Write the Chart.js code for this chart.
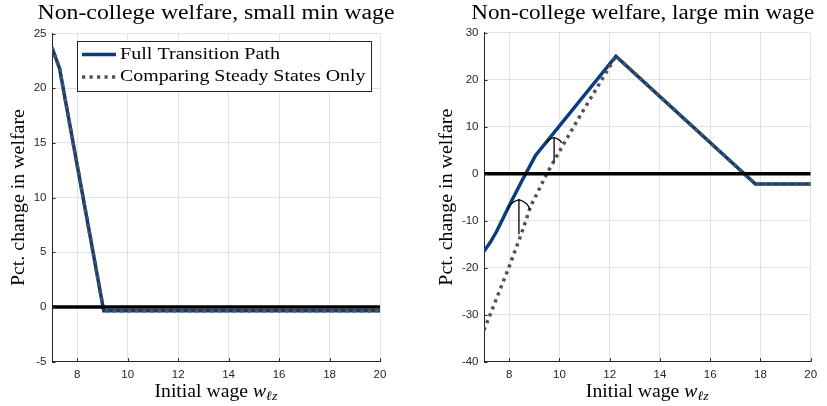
<!DOCTYPE html>
<html>
<head>
<meta charset="utf-8">
<script src="https://cdn.jsdelivr.net/npm/chart.js@4.4.1/dist/chart.umd.min.js"></script>
<style>
  html, body { margin: 0; padding: 0; background: #fff; }
  #wrap { position: relative; width: 827px; height: 406px; overflow: hidden; background: #fff; }
  canvas { position: absolute; top: 0; }
</style>
</head>
<body>
<div id="wrap">
  <canvas id="small" width="413" height="406" style="left:0"></canvas>
  <canvas id="large" width="414" height="406" style="left:413px"></canvas>
</div>
<script>
// Welfare change (%) for non-college workers by initial wage, small minimum wage
const smallWage   = [7, 7.3, 9.05, 20];
const smallFull   = [23.7, 21.8, -0.35, -0.35];
const smallSteady = [23.7, 21.8, -0.35, -0.35];

// Same, large minimum wage
const largeWageFull   = [7, 7.25, 7.5, 7.75, 8, 8.5, 9.05, 12.25, 17.8, 20];
const largeFull       = [-16.5, -14.6, -12.3, -9.6, -6.8, -1.6, 3.9, 25, -2.2, -2.2];
const largeWageSteady = [7, 7.5, 8, 8.5, 8.85, 9.5, 10.2, 10.9, 12.25, 17.8, 20];
const largeSteady     = [-33.3, -26.5, -19.8, -12.6, -7.0, 0, 6.6, 13.0, 25, -2.2, -2.2];

// Reference line at zero
const zeroWage  = [7, 20];
const zeroLevel = [0, 0];

// Tick values
const xTicks      = [8, 10, 12, 14, 16, 18, 20];
const smallYTicks = [-5, 0, 5, 10, 15, 20, 25];
const largeYTicks = [-40, -30, -20, -10, 0, 10, 20, 30];

// Arrows from the steady-state comparison up to the transition path
const arrowWage = [8.39, 9.79];
const arrowFrom = [-12.9, 2.5];
const arrowTo   = [-5.5, 7.7];

const titles      = ['Non-college welfare, small min wage', 'Non-college welfare, large min wage'];
const seriesNames = ['Full Transition Path', 'Comparing Steady States Only'];
const yLabel      = 'Pct. change in welfare';

const BLUE = '#0c3d7c';
const GRAY = '#525252';
const AXIS = '#262626';
const GRID = '#e2e2e2';
const SERIF = '"Liberation Serif", "Times New Roman", serif';
const SANS = '"Liberation Sans", Arial, sans-serif';

function pts(xs, ys) { return xs.map((x, i) => ({ x: x, y: ys[i] })); }

// draw a string stretched to a given width
function fitText(ctx, str, x, y, width, align) {
  const m = ctx.measureText(str).width;
  ctx.save();
  ctx.translate(x, y);
  ctx.scale(width / m, 1);
  ctx.textAlign = align;
  ctx.fillText(str, 0, 0);
  ctx.restore();
}

const decor = {
  id: 'decor',
  afterDraw(chart, args, o) {
    const ctx = chart.ctx;
    const xs = chart.scales.x, ys = chart.scales.y;
    const area = chart.chartArea;
    ctx.save();
    ctx.fillStyle = '#000';
    ctx.textBaseline = 'alphabetic';

    // title
    ctx.font = '20px ' + SERIF;
    fitText(ctx, o.title, o.titleX, 19, o.titleW, 'center');

    // y axis label
    ctx.font = '18px ' + SERIF;
    ctx.save();
    ctx.translate(o.yLabelX, (area.top + area.bottom) / 2);
    ctx.rotate(-Math.PI / 2);
    fitText(ctx, yLabel, 0, 0, 177, 'center');
    ctx.restore();

    // x axis label with math subscript
    const parts = [
      { t: 'Initial wage ', f: '18px ' + SERIF, dy: 0 },
      { t: 'w', f: 'italic 18px ' + SERIF, dy: 0 },
      { t: 'ℓz', f: 'italic 13px ' + SERIF, dy: 3 }
    ];
    let total = 0;
    parts.forEach(p => { ctx.font = p.f; p.w = ctx.measureText(p.t).width; total += p.w; });
    const target = 123;
    ctx.save();
    ctx.translate((area.left + area.right) / 2 - target / 2, 397);
    ctx.scale(target / total, 1);
    ctx.textAlign = 'left';
    let cx = 0;
    parts.forEach(p => { ctx.font = p.f; ctx.fillText(p.t, cx, p.dy); cx += p.w; });
    ctx.restore();

    // inward tick marks
    ctx.strokeStyle = AXIS;
    ctx.lineWidth = 1;
    ctx.beginPath();
    xs.ticks.forEach(t => {
      const px = Math.round(xs.getPixelForValue(t.value)) + 0.5;
      ctx.moveTo(px, area.bottom);
      ctx.lineTo(px, area.bottom - 3.5);
    });
    ys.ticks.forEach(t => {
      const py = Math.round(ys.getPixelForValue(t.value)) + 0.5;
      ctx.moveTo(area.left, py);
      ctx.lineTo(area.left + 3.5, py);
    });
    ctx.stroke();

    // arrows with curved, open heads
    if (o.arrows) {
      ctx.strokeStyle = '#000';
      ctx.lineWidth = 1.3;
      arrowWage.forEach((w, i) => {
        const px = xs.getPixelForValue(w);
        const y0 = ys.getPixelForValue(arrowFrom[i]);
        const y1 = ys.getPixelForValue(arrowTo[i]);
        const hw = o.headW[i], hh = o.headH[i];
        ctx.beginPath();
        ctx.moveTo(px, y0);
        ctx.lineTo(px, y1);
        ctx.moveTo(px - hw, y1 + hh);
        ctx.quadraticCurveTo(px - hw * 0.8, y1 + hh * 0.25, px, y1);
        ctx.quadraticCurveTo(px + hw * 0.8, y1 + hh * 0.25, px + hw, y1 + hh);
        ctx.stroke();
      });
    }

    // legend
    if (o.legend) {
      const bx = 77.5, by = 41.5, bw = 294, bh = 50;
      ctx.fillStyle = '#fff';
      ctx.fillRect(bx, by, bw, bh);
      ctx.strokeStyle = AXIS;
      ctx.lineWidth = 1;
      ctx.strokeRect(bx, by, bw, bh);

      ctx.lineWidth = 3.5;
      ctx.strokeStyle = BLUE;
      ctx.setLineDash([]);
      ctx.beginPath(); ctx.moveTo(82, 54.5); ctx.lineTo(116, 54.5); ctx.stroke();
      ctx.strokeStyle = GRAY;
      ctx.setLineDash([3.2, 4.3]);
      ctx.beginPath(); ctx.moveTo(82, 77); ctx.lineTo(116, 77); ctx.stroke();
      ctx.setLineDash([]);

      ctx.fillStyle = '#000';
      ctx.font = '16px ' + SERIF;
      fitText(ctx, seriesNames[0], 120, 58.5, 160, 'left');
      fitText(ctx, seriesNames[1], 120, 81, 245.5, 'left');
    }
    ctx.restore();
  }
};

function makeChart(id, cfg) {
  const yt = cfg.yTicks;
  return new Chart(document.getElementById(id), {
    type: 'line',
    data: {
      datasets: [
        { label: 'zero', data: pts(zeroWage, zeroLevel), borderColor: '#000', borderWidth: 3.5,
          pointRadius: 0, fill: false },
        { label: seriesNames[1], data: cfg.steady, borderColor: GRAY, borderWidth: 3.5,
          borderDash: [3.2, 4.3], borderCapStyle: 'butt', pointRadius: 0, fill: false, tension: 0 },
        { label: seriesNames[0], data: cfg.full, borderColor: BLUE, borderWidth: 3.5,
          borderJoinStyle: 'miter', pointRadius: 0, fill: false, tension: 0 }
      ]
    },
    options: {
      responsive: false,
      animation: false,
      devicePixelRatio: 1,
      layout: { padding: { left: 0, right: cfg.padRight, top: cfg.padTop, bottom: 0 } },
      plugins: {
        legend: { display: false },
        tooltip: { enabled: false },
        title: { display: false },
        decor: cfg.decor
      },
      scales: {
        x: {
          type: 'linear', min: 7, max: 20,
          afterBuildTicks: s => { s.ticks = xTicks.map(v => ({ value: v })); },
          afterFit: s => { s.height = 44.3; },
          grid: { color: GRID, lineWidth: 1, drawTicks: false },
          border: { display: true, color: AXIS, width: 1 },
          ticks: { padding: 6.5, color: AXIS, maxRotation: 0, autoSkip: false,
                   font: { family: SANS, size: 11.5 } }
        },
        y: {
          type: 'linear', min: yt[0], max: yt[yt.length - 1],
          afterBuildTicks: s => { s.ticks = yt.map(v => ({ value: v })); },
          afterFit: s => { s.width = cfg.yWidth; },
          grid: {
            color: c => (c.tick && c.tick.value === yt[0]) ? 'rgba(0,0,0,0)' : GRID,
            lineWidth: 1, drawTicks: false
          },
          border: { display: true, color: AXIS, width: 1 },
          ticks: { padding: 5.5, color: AXIS, autoSkip: false,
                   font: { family: SANS, size: 11.5 } }
        }
      }
    },
    plugins: [decor]
  });
}

makeChart('small', {
  yTicks: smallYTicks,
  full: pts(smallWage, smallFull),
  steady: pts(smallWage, smallSteady),
  yWidth: 52, padRight: 33, padTop: 33.5,
  decor: { title: titles[0], titleX: 216, titleW: 357, yLabelX: 24, legend: true, arrows: false }
});

makeChart('large', {
  yTicks: largeYTicks,
  full: pts(largeWageFull, largeFull),
  steady: pts(largeWageSteady, largeSteady),
  yWidth: 71, padRight: 16.3, padTop: 32.7,
  decor: { title: titles[1], titleX: 229.7, titleW: 343, yLabelX: 38.5, legend: false, arrows: true,
           headW: [11, 7.5], headH: [10, 5.5] }
});
</script>
</body>
</html>
